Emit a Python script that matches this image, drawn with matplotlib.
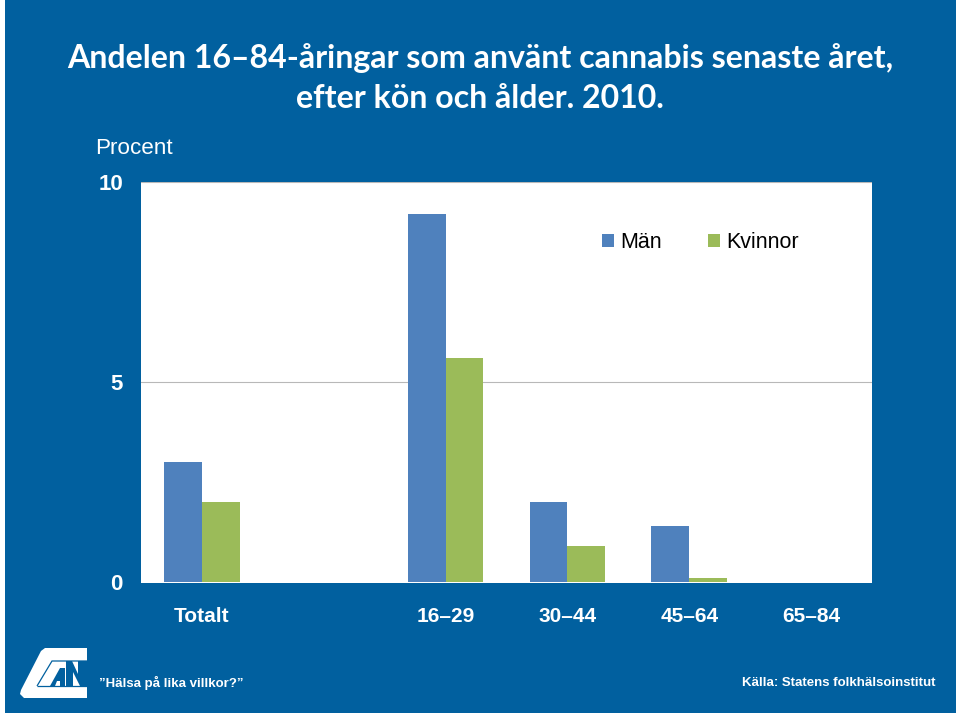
import matplotlib
matplotlib.use("Agg")
import matplotlib.pyplot as plt
from matplotlib.patches import Polygon, Rectangle
import numpy as np

# data
categories = ["Totalt", "", "16–29", "30–44", "45–64", "65–84"]
man = [3.0, 0, 9.2, 2.0, 1.4, 0]
kvinnor = [2.0, 0, 5.6, 0.9, 0.1, 0]
yticks = [0, 5, 10]

W, H = 960, 716
BLUE = "#01609f"
MAN_COL = "#4f81bd"
KV_COL = "#9bbb59"

def px(x, y):
    # pixel coords (top left origin) to figure coords
    return x / W, 1 - y / H

fig = plt.figure(figsize=(W / 100, H / 100), dpi=100, facecolor="white")

# blue slide background
fig.add_artist(Rectangle(px(5, 713), 951 / W, 713 / H, transform=fig.transFigure, fc=BLUE, ec="none", zorder=-1))

ax = fig.add_axes([141 / W, 1 - 583 / H, 731 / W, 401 / H])
ax.set_facecolor("white")
x = np.arange(len(categories))
w = 0.31
ax.bar(x - w / 2, man, w, color=MAN_COL, label="Män", zorder=3)
ax.bar(x + w / 2, kvinnor, w, color=KV_COL, label="Kvinnor", zorder=3)
ax.set_xlim(-0.5, 5.5)
ax.set_ylim(-0.035, 10)  # thin white strip under the bars
ax.set_yticks(yticks)
ax.set_xticks([0, 2, 3, 4, 5])
ax.set_xticklabels([c for c in categories if c], fontsize=15, fontweight="bold", color="white", family="Liberation Sans")
ax.set_yticklabels([str(t) for t in yticks], fontsize=16, fontweight="bold", color="white", family="Liberation Sans")
ax.tick_params(axis="both", length=0)
ax.tick_params(axis="x", pad=17.5)
ax.tick_params(axis="y", pad=13)
ax.yaxis.grid(True, color="#b8b8b8", lw=0.8, zorder=1)
ax.yaxis.get_gridlines()[0].set_visible(False)
ax.set_axisbelow(True)
for s in ax.spines.values():
    s.set_visible(False)

leg = ax.legend(loc="upper left", bbox_to_anchor=(0.6306, 0.875), ncol=2, frameon=False,
                prop={"family": "Liberation Sans", "size": 15.5}, handlelength=0.56, handleheight=0.56,
                handletextpad=0.28, columnspacing=2.14, borderpad=0, borderaxespad=0)

# titles
fig.text(480 / W, 1 - 58 / H, "Andelen 16–84-åringar som använt cannabis senaste året,", ha="center", va="center",
         fontsize=23.1, fontweight="bold", color="white", family="Lato")
fig.text(480 / W, 1 - 99 / H, "efter kön och ålder. 2010.", ha="center", va="center",
         fontsize=23.1, fontweight="bold", color="white", family="Lato")
fig.text(95 / W, 1 - 148 / H, "Procent", ha="left", va="center", fontsize=16.2, color="white", family="Liberation Sans")

# footer
fig.text(99 / W, 1 - 683 / H, "”Hälsa på lika villkor?”", ha="left", va="center", fontsize=9.5,
         fontweight="bold", color="white", family="Liberation Sans")
fig.text(935 / W, 1 - 683 / H, "Källa: Statens folkhälsoinstitut", ha="right", va="center", fontsize=9.5,
         fontweight="bold", color="white", family="Liberation Sans")

# logo
logo = [(45, 648), (87, 648), (87, 698), (24, 698), (20, 694), (21, 690), (41, 651)]
fig.add_artist(Polygon([px(*p) for p in logo], transform=fig.transFigure, fc="white", ec="none"))
lines = [(37, 686), (52, 661), (87, 661)]
fig.add_artist(Polygon([px(*p) for p in lines], closed=False, fill=False, transform=fig.transFigure, ec=BLUE, lw=0.9))
fig.add_artist(Polygon([px(*p) for p in [(37, 686), (87, 686)]], closed=False, fill=False, transform=fig.transFigure, ec=BLUE, lw=0.9))
letter_a = [(50, 686), (60, 668), (65, 668), (65, 686), (60, 686), (60, 681), (57, 681), (55, 686)]
letter_n = [(66, 686), (66, 661), (72, 661), (78, 674), (78, 661), (87, 661), (87, 686), (80, 686), (73, 672), (73, 686)]
fig.add_artist(Polygon([px(*p) for p in letter_n], transform=fig.transFigure, fc=BLUE, ec="none"))
fig.add_artist(Polygon([px(*p) for p in letter_a], transform=fig.transFigure, fc=BLUE, ec="none"))

fig.savefig("out.png", dpi=100, facecolor="white")
